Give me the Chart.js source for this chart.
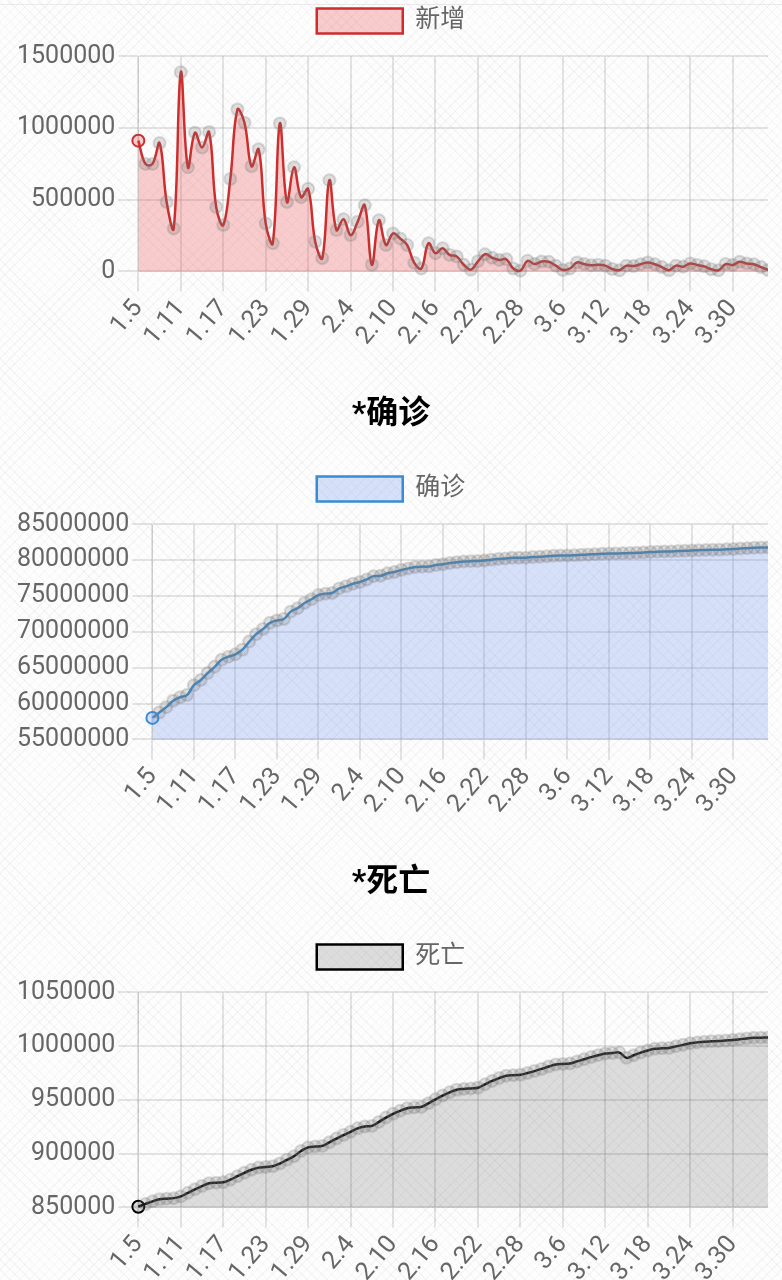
<!DOCTYPE html>
<html>
<head>
<meta charset="utf-8">
<script src="https://cdn.jsdelivr.net/npm/chart.js@4.4.1/dist/chart.umd.min.js"></script>
<style>
  html, body { margin: 0; padding: 0; }
  body {
    width: 782px; height: 1280px; overflow: hidden; position: relative;
    background-color: #fdfdfd;
    background-image:
      repeating-linear-gradient(45deg, rgba(0,0,0,0.03) 0 1px, transparent 1px 7px),
      repeating-linear-gradient(-45deg, rgba(0,0,0,0.03) 0 1px, transparent 1px 7px);
  }
  .topline { position: absolute; left: 0; right: 0; top: 4px; height: 1px; background: rgba(0,0,0,0.07); }
  .box { position: absolute; left: 14px; width: 754px; height: 436px; }
</style>
</head>
<body>
<div class="topline"></div>
<div class="box" style="top:-82px"><canvas id="newChart"></canvas></div>
<div class="box" style="top:386px"><canvas id="confirmChart"></canvas></div>
<div class="box" style="top:854px"><canvas id="deathChart"></canvas></div>
<script>
var dates = [
  '1.5','1.6','1.7','1.8','1.9','1.10','1.11','1.12','1.13','1.14','1.15','1.16','1.17','1.18','1.19','1.20',
  '1.21','1.22','1.23','1.24','1.25','1.26','1.27','1.28','1.29','1.30','1.31',
  '2.1','2.2','2.3','2.4','2.5','2.6','2.7','2.8','2.9','2.10','2.11','2.12','2.13','2.14','2.15','2.16',
  '2.17','2.18','2.19','2.20','2.21','2.22','2.23','2.24','2.25','2.26','2.27','2.28',
  '3.1','3.2','3.3','3.4','3.5','3.6','3.7','3.8','3.9','3.10','3.11','3.12','3.13','3.14','3.15','3.16',
  '3.17','3.18','3.19','3.20','3.21','3.22','3.23','3.24','3.25','3.26','3.27','3.28','3.29','3.30','3.31',
  '4.1','4.2','4.3','4.4'
];

// daily new cases
var newCases = [
  912000, 750000, 750000, 895000, 484000, 299000, 1389000, 726000, 968000, 864000,
  972000, 449000, 323000, 645000, 1129000, 1037000, 733000, 852000, 334000, 196000,
  1032000, 484000, 726000, 518000, 576000, 207000, 92000, 636000, 288000, 364000,
  253000, 346000, 461000, 46000, 357000, 184000, 265000, 230000, 184000, 60000,
  20000, 196000, 127000, 161000, 115000, 104000, 46000, 12000, 70000, 120000,
  95000, 80000, 85000, 20000, 5000, 74000, 51000, 69000, 67000, 40000,
  10000, 20000, 62000, 51000, 43000, 46000, 40000, 17000, 8000, 40000,
  37000, 50000, 62000, 50000, 30000, 8000, 40000, 33000, 55000, 45000,
  35000, 15000, 8000, 51000, 45000, 67000, 55000, 50000, 30000, 10000
];

// cumulative confirmed
var confirmed = [
  58000000, 58750000, 59500000, 60395000, 60879000, 61178000, 62567000, 63293000, 64261000, 65125000,
  66097000, 66546000, 66869000, 67514000, 68643000, 69680000, 70413000, 71265000, 71599000, 71795000,
  72827000, 73311000, 74037000, 74555000, 75131000, 75338000, 75430000, 76066000, 76354000, 76718000,
  76971000, 77317000, 77778000, 77824000, 78181000, 78365000, 78630000, 78860000, 79044000, 79104000,
  79124000, 79320000, 79447000, 79608000, 79723000, 79827000, 79873000, 79885000, 79955000, 80075000,
  80170000, 80250000, 80335000, 80355000, 80360000, 80434000, 80485000, 80554000, 80621000, 80661000,
  80671000, 80691000, 80753000, 80804000, 80847000, 80893000, 80933000, 80950000, 80958000, 80998000,
  81035000, 81085000, 81147000, 81197000, 81227000, 81235000, 81275000, 81308000, 81363000, 81408000,
  81443000, 81458000, 81466000, 81517000, 81562000, 81629000, 81684000, 81734000, 81764000, 81774000
];

// cumulative deaths
var deaths = [
  850600, 853200, 855600, 857600, 858100, 858600, 860200, 863500, 866800, 869800,
  872400, 873000, 873400, 875800, 879000, 882200, 885000, 887000, 887600, 888200,
  890800, 894200, 897600, 902500, 905800, 906600, 907200, 910500, 914000, 917300,
  920300, 923500, 925200, 925800, 929500, 933500, 937000, 939800, 942300, 943000,
  943500, 946800, 950500, 954000, 957000, 959400, 960200, 960700, 961300, 964500,
  967600, 970300, 972400, 973000, 973400, 975000, 976800, 978800, 981000, 982900,
  983500, 983900, 985800, 987800, 989800, 991600, 993100, 993600, 994000, 989100,
  991500, 994000, 996000, 997500, 998000, 998300, 999800, 1001200, 1002600, 1003500,
  1004200, 1004500, 1004700, 1005200, 1005700, 1006400, 1007200, 1007700, 1007900, 1008000
];

var newTicks = [0, 500000, 1000000, 1500000];
var confirmedTicks = [55000000, 60000000, 65000000, 70000000, 75000000, 80000000, 85000000];
var deathTicks = [850000, 900000, 950000, 1000000, 1050000];

var FONT = 'Roboto, "Noto Sans CJK SC", sans-serif';

// a bit more room under the legend
var legendGap = {
  id: 'legendGap',
  beforeInit: function (chart) {
    var fit = chart.legend.fit;
    chart.legend.fit = function () {
      fit.call(this);
      this.height += 13;
    };
  }
};

function makeChart(id, title, label, values, yTicks, line, fill) {
  var ctx = document.getElementById(id).getContext('2d');
  return new Chart(ctx, {
    type: 'line',
    data: {
      labels: dates,
      datasets: [{
        label: label,
        data: values,
        borderColor: line,
        backgroundColor: fill,
        borderWidth: 2.5,
        fill: 'origin',
        clip: 10,
        tension: 0.4,
        pointRadius: 6,
        pointBorderWidth: 2,
        pointBackgroundColor: function (c) { return c.dataIndex === 0 ? fill : 'rgba(120,120,120,0.22)'; },
        pointBorderColor: function (c) { return c.dataIndex === 0 ? line : 'rgba(120,120,120,0.25)'; }
      }]
    },
    plugins: [legendGap],
    options: {
      responsive: true,
      maintainAspectRatio: false,
      animation: false,
      layout: { autoPadding: false },
      plugins: {
        title: {
          display: true,
          text: title,
          color: '#000',
          font: { family: FONT, size: 32, weight: 'bold' },
          padding: { top: 10, bottom: 21 }
        },
        legend: {
          labels: {
            color: '#666',
            boxWidth: 86,
            boxHeight: 25,
            padding: 21,
            font: { family: FONT, size: 25 }
          }
        },
        tooltip: { enabled: false }
      },
      scales: {
        x: {
          grid: { color: 'rgba(0,0,0,0.1)', lineWidth: 2, tickLength: 20 },
          ticks: {
            color: '#666',
            font: { family: FONT, size: 25 },
            minRotation: 50,
            maxRotation: 50,
            autoSkipPadding: -4,
            maxTicksLimit: 16,
            padding: 3
          }
        },
        y: {
          min: yTicks[0],
          max: yTicks[yTicks.length - 1],
          grid: { color: 'rgba(0,0,0,0.1)', lineWidth: 2, tickLength: 20 },
          ticks: {
            color: '#666',
            stepSize: yTicks[1] - yTicks[0],
            font: { family: FONT, size: 25 },
            padding: 3,
            callback: function (v) { return String(v); }
          }
        }
      }
    }
  });
}

makeChart('newChart', '*新增', '新增', newCases, newTicks, 'rgb(205,45,45)', 'rgba(235,60,60,0.25)');
makeChart('confirmChart', '*确诊', '确诊', confirmed, confirmedTicks, 'rgb(55,140,210)', 'rgba(100,140,240,0.25)');
makeChart('deathChart', '*死亡', '死亡', deaths, deathTicks, 'rgb(0,0,0)', 'rgba(0,0,0,0.13)');
</script>
</body>
</html>
